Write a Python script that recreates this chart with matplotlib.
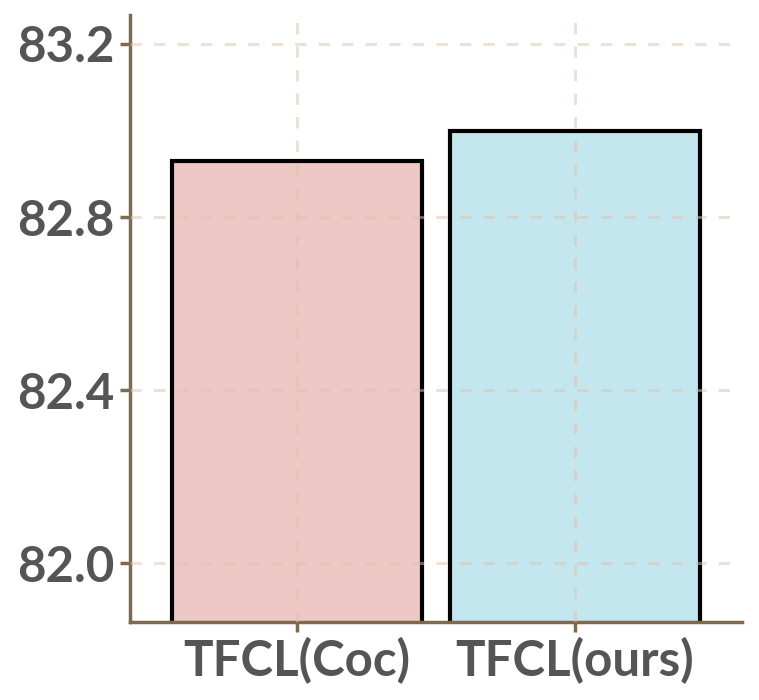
import matplotlib
matplotlib.use("Agg")
import matplotlib.pyplot as plt

categories = ["TFCL(Coc)", "TFCL(ours)"]
values = [82.93, 83.00]
colors = ["#EDC8C5", "#C4E7EF"]
yticks = [82.0, 82.4, 82.8, 83.2]
ytick_labels = ["82.0", "82.4", "82.8", "83.2"]

plt.rcParams['font.family'] = ['Lato', 'DejaVu Sans']
fig = plt.figure(figsize=(7.59, 7.0), dpi=100)
ax = fig.add_axes([130/759, 1 - 622/700, (742-130)/759, (622-15)/700])

x = list(range(len(categories)))
ax.bar(x, values, width=0.9, color=colors, edgecolor="black", linewidth=3, zorder=1)
ax.set_xlim(-0.6, 1.6)
ax.set_ylim(81.864, 83.267)
ax.set_yticks(yticks)
ax.set_yticklabels(ytick_labels)
ax.set_xticks(x)
ax.set_xticklabels(categories)

spine_c = "#7F6A50"
for s in ["top", "right"]:
    ax.spines[s].set_visible(False)
for s in ["left", "bottom"]:
    ax.spines[s].set_color(spine_c)
    ax.spines[s].set_linewidth(2.5)
ax.tick_params(axis="both", colors=spine_c, width=2.5, length=7, labelcolor="#555555",
               labelsize=35.5, pad=4)
for lab in ax.get_xticklabels() + ax.get_yticklabels():
    lab.set_fontweight("bold")

ax.set_axisbelow(False)
ax.grid(True, color="#DCC3AE", alpha=0.5, linestyle=(0, (3.7, 4.0)), linewidth=2.2)

fig.savefig("out.png", dpi=100)
